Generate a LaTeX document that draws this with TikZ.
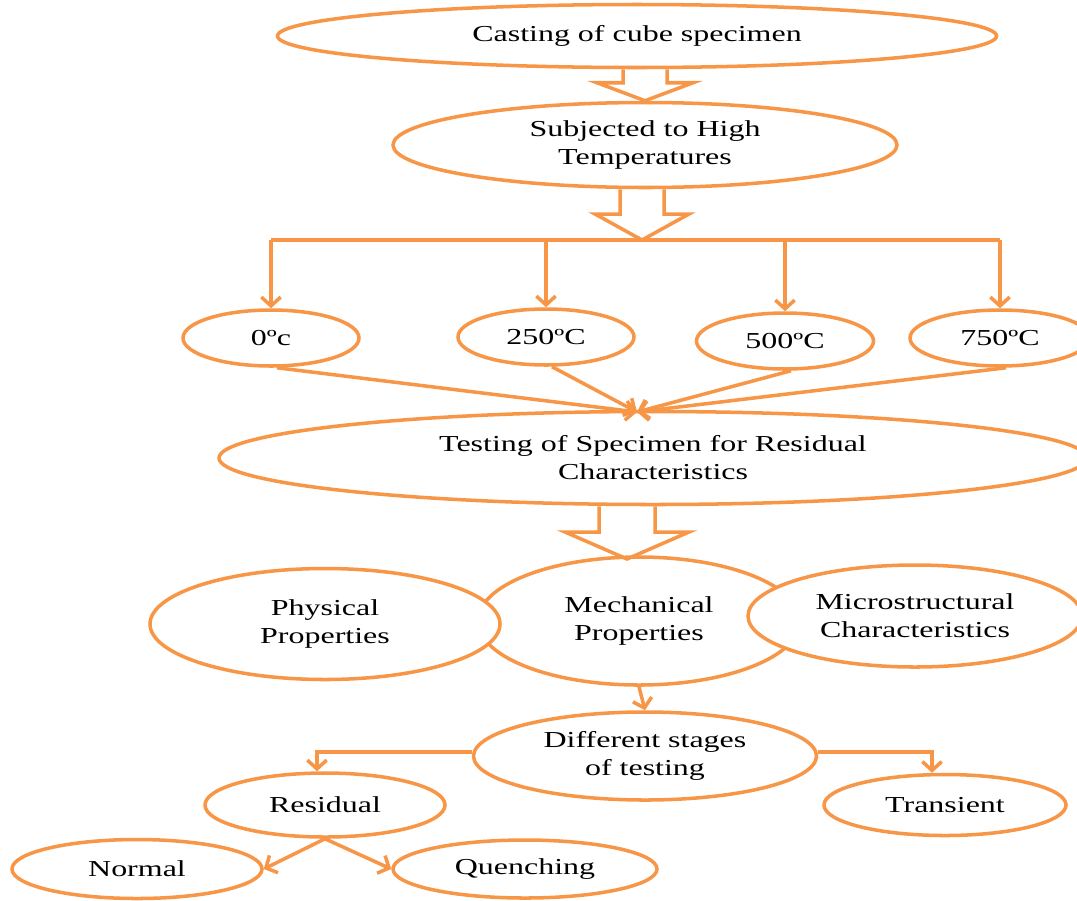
\documentclass[tikz,border=0pt]{standalone}
\usepackage{fontspec}
\setmainfont{Liberation Serif}[FakeStretch=1.4]
\usetikzlibrary{shapes.geometric,positioning,calc,arrows.meta}

\definecolor{flowor}{RGB}{247,150,70}

% hollow block arrow pointing down: top, tip, shaft half width, head half width, head length
\newcommand{\blockdown}[5]{%
  \draw[blockline] ($(#1)+(-#3,0)$) -- ($(#2)+(-#3,-#5)$) -- ($(#2)+(-#4,-#5)$)
    -- (#2) -- ($(#2)+(#4,-#5)$) -- ($(#2)+(#3,-#5)$) -- ($(#1)+(#3,0)$);}

\begin{document}
\begin{tikzpicture}[x=0.02cm,y=-0.02cm,
  oval/.style 2 args={ellipse,draw=flowor,line width=2pt,fill=white,inner sep=0pt,
                      minimum width=#1*0.02cm,minimum height=#2*0.02cm,align=center,
                      font=\fontsize{13}{16}\selectfont},
  arr/.style={draw=flowor,line width=2pt,-{Straight Barb[length=5pt,width=11pt]}},
  link/.style={draw=flowor,line width=2pt},
  blockline/.style={draw=flowor,line width=2pt,line join=miter},
]
\useasboundingbox (0,0) rectangle (1077,900);

% === Casting and heating ===
\node[oval={719}{63}] (cast) at (637,36) {Casting of cube specimen};
\node[oval={504}{85}] (subj) at (645,145) {Subjected to High\\Temperatures};

\coordinate (b1) at (subj.north);
\coordinate (b1top) at (b1 |- cast.south);
\blockdown{b1top}{b1}{22}{48}{18}

% === Temperatures ===
\node[oval={176}{56}] (t0) at (271,338) {0ºc};
\node[oval={176}{56}] (t250) at (546,337) {250ºC};
\node[oval={177}{56}] (t500) at (785,341) {500ºC};
\node[oval={180}{56}] (t750) at (1000,338) {750ºC};

\coordinate (bus) at (642,240);
\coordinate (b2top) at (bus |- subj.south);
\blockdown{b2top}{bus}{22}{47}{26}

\draw[link] (t0.north |- bus) -- (t750.north |- bus);
\foreach \t in {t0,t250,t500,t750}
  \draw[arr] (\t.north |- bus) -- (\t.north);

% === Testing ===
\node[oval={868}{93}] (test) at (653,458) {Testing of Specimen for Residual\\Characteristics};

\coordinate (conv) at (637,412);
\foreach \t in {t0,t250,t500,t750}
  \draw[arr] ([xshift=0.12cm]\t.south) -- (conv);

% === Properties ===
\node[oval={322}{128}] (mech) at (639,621) {Mechanical\\Properties};
\node[oval={350}{111}] (phys) at (325,624) {Physical\\Properties};
\node[oval={334}{102}] (micro) at (915,616) {Microstructural\\Characteristics};

\coordinate (b3) at (627,559);
\coordinate (b3top) at (b3 |- test.south);
\blockdown{b3top}{b3}{28}{62}{27}

% === Stages of testing ===
\node[oval={343}{88}] (diff) at (645,756) {Different stages\\of testing};
\node[oval={240}{64}] (resid) at (325,805) {Residual};
\node[oval={242}{61}] (trans) at (945,805) {Transient};
\node[oval={250}{59}] (normal) at (137,869) {Normal};
\node[oval={264}{58}] (quench) at (525,869) {Quenching};

\draw[arr] (mech.south) -- (diff.north);
\draw[arr] ([yshift=0.08cm]diff.west) -| ([xshift=-0.16cm]resid.north);
\draw[arr] ([yshift=0.08cm]diff.east) -| ([xshift=-0.26cm]trans.north);
\draw[arr] (resid.south) -- (normal.east);
\draw[arr] (resid.south) -- (quench.west);

\end{tikzpicture}
\end{document}
